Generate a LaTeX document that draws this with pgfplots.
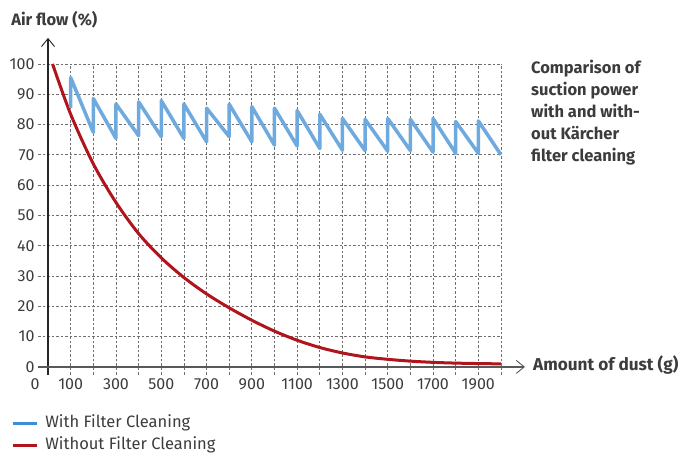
\documentclass[border=0pt]{standalone}
\usepackage{pgfplots}
\pgfplotsset{compat=1.18}
\usepackage{fontspec}
\setmainfont{Fira Sans}
\usetikzlibrary{arrows.meta}
\definecolor{blueline}{HTML}{6FAADF}
\definecolor{bluelegend}{HTML}{3A8FD6}
\definecolor{redline}{HTML}{B0141D}
\definecolor{gridgray}{HTML}{707070}
\definecolor{txt}{HTML}{3C3C3C}
\begin{document}
\begin{tikzpicture}
\begin{axis}[
  x=0.2265pt, y=3.03pt,
  xmin=-44, xmax=2000, ymin=-2.6, ymax=100,
  clip=false,
  axis line style={draw=none},
  tick style={draw=none},
  xtick={100,200,...,2000},
  xticklabels={100,,300,,500,,700,,900,,1100,,1300,,1500,,1700,,1900,},
  ytick={0,10,...,100},
  grid=major,
  major grid style={gridgray, line width=0.8pt, dash pattern=on 2.5pt off 2pt},
  ticklabel style={font=\fontsize{16}{19}\selectfont, text=txt},
  /pgf/number format/assume math mode=true,
  legend style={draw=none, fill=none, inner sep=0pt, outer sep=0pt,
    at={(rel axis cs:-0.0583,-0.131)}, anchor=north west,
    font=\fontsize{16.5}{19}\selectfont, text=txt, row sep=6.3pt, column sep=6pt,
    nodes={inner sep=1pt, text height=11pt, text depth=3pt}},
  legend cell align=left,
  legend image code/.code={\draw[line width=3.3pt] (0pt,0pt) -- (24pt,0pt);},
]
\draw[black!85, line width=1.2pt, -{Straight Barb[length=8pt,width=13pt,line width=0.9pt]}] (axis cs:0,-2.6) -- (axis cs:0,108.6);
\draw[black!65, line width=1.4pt, -{Straight Barb[length=8pt,width=13pt,line width=0.9pt]}] (axis cs:-44,0) -- (axis cs:2106,0);

\addlegendimage{bluelegend}
\addlegendentry{With Filter Cleaning}
\addlegendimage{redline}
\addlegendentry{Without Filter Cleaning}

\addplot[forget plot, redline, line width=3pt, smooth, tension=0.5] coordinates {
(20,100) (100,83.4) (200,67) (300,54.3) (400,44) (500,36) (600,29.5)
(700,24.1) (800,19.5) (900,15.4) (1000,11.8) (1100,8.8) (1200,6.4) (1300,4.6)
(1400,3.3) (1500,2.5) (1600,1.9) (1700,1.5) (1800,1.25) (1900,1.1) (2000,1.0)};

\addplot[forget plot, blueline, line width=3.5pt, line join=round] coordinates {
(100,85.5) (100,95.5) (200,77.4) (200,88.6) (300,75.4) (300,86.8) (400,76.3)
(400,87.5) (500,76) (500,87.9) (600,75.4) (600,86.8) (700,74.3) (700,85.4)
(800,76) (800,86.7) (900,74.3) (900,85.9) (1000,73.2) (1000,85.4) (1100,72.9)
(1100,84.6) (1200,72.1) (1200,83.4) (1300,71.5) (1300,82) (1400,71.4) (1400,81.7)
(1500,71.2) (1500,82) (1600,71.4) (1600,81.7) (1700,70.9) (1700,82) (1800,70.5)
(1800,81) (1900,70.5) (1900,81.2) (2000,70)};

\node[anchor=north, font=\fontsize{16}{19}\selectfont, text=txt] at (axis cs:-57,-2.6) {0};
\node[anchor=base west, font=\fontsize{16.5}{20}\selectfont\bfseries, text=txt, inner sep=0pt] at (axis cs:-163,112.8) {Air flow (\%)};
\node[anchor=base west, font=\fontsize{17.2}{20}\selectfont\bfseries, text=txt, inner sep=0pt] at (axis cs:2141,-1.3) {Amount of dust (g)};
\node[anchor=north west, align=left, font=\fontsize{16.5}{21.8}\selectfont\bfseries, text=txt, inner sep=0pt] at (axis cs:2132.5,101.2) {Comparison of\\suction power\\with and with-\\out Kärcher\\filter cleaning};
\path (axis cs:-212,-27.7) rectangle (axis cs:2817,121.1);
\end{axis}
\end{tikzpicture}
\end{document}
